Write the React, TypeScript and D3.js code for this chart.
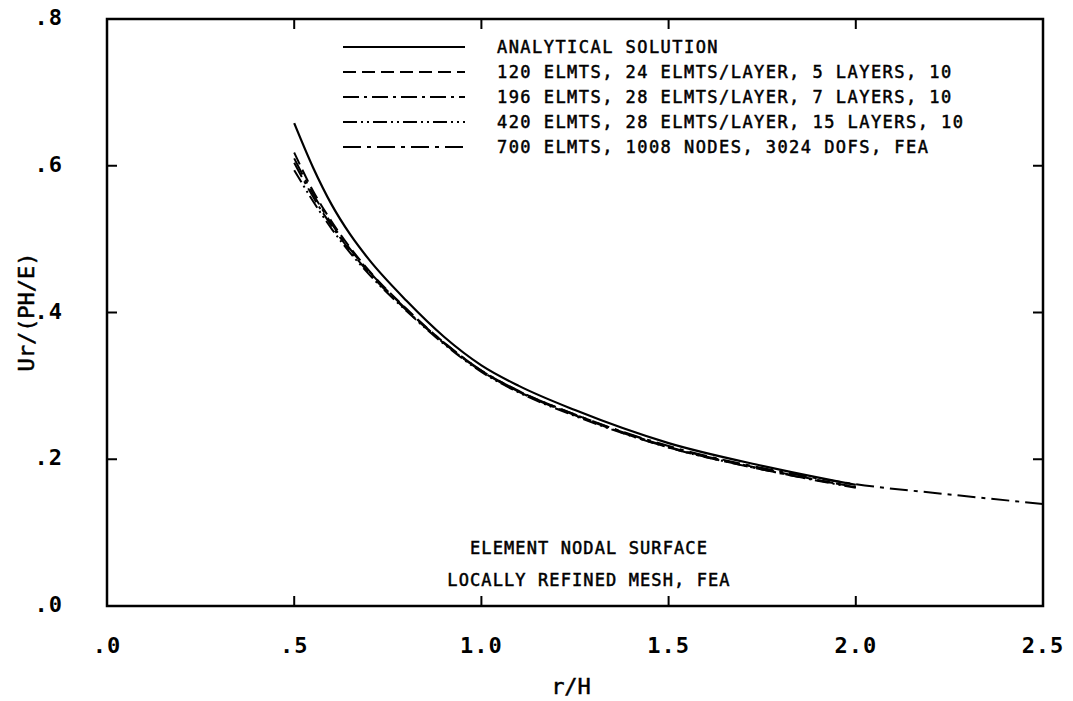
import React from "react";
import * as d3 from "d3";

const xTicks = [0, 0.5, 1.0, 1.5, 2.0, 2.5];
const xTickLabels = [".0", ".5", "1.0", "1.5", "2.0", "2.5"];
const yTicks = [0, 0.2, 0.4, 0.6, 0.8];
const yTickLabels = [".0", ".2", ".4", ".6", ".8"];

const analyticalR = [0.5, 0.55, 0.6, 0.65, 0.7, 0.8, 0.9, 1.0, 1.1, 1.25, 1.5, 1.75, 2.0];
const analyticalU = [0.658, 0.598, 0.547, 0.506, 0.472, 0.416, 0.367, 0.328, 0.300, 0.267, 0.222, 0.191, 0.165];

const feaR = [0.5, 0.55, 0.6, 0.65, 0.7, 0.8, 0.9, 1.0, 1.1, 1.25, 1.5, 1.75, 2.0];
const fea120U = [0.618, 0.566, 0.524, 0.488, 0.457, 0.405, 0.359, 0.321, 0.293, 0.261, 0.217, 0.187, 0.162];
const fea196U = [0.604, 0.558, 0.518, 0.484, 0.454, 0.403, 0.358, 0.320, 0.292, 0.260, 0.216, 0.186, 0.162];
const fea420U = [0.594, 0.552, 0.514, 0.481, 0.452, 0.402, 0.357, 0.319, 0.291, 0.259, 0.216, 0.186, 0.161];
const fea700R = [0.5, 0.55, 0.6, 0.65, 0.7, 0.8, 0.9, 1.0, 1.1, 1.25, 1.5, 1.75, 2.0, 2.25, 2.5];
const fea700U = [0.610, 0.562, 0.521, 0.486, 0.456, 0.404, 0.359, 0.321, 0.293, 0.261, 0.218, 0.188, 0.166, 0.152, 0.139];

const legendLabels = [
  "ANALYTICAL SOLUTION",
  "120 ELMTS, 24 ELMTS/LAYER, 5 LAYERS, 10",
  "196 ELMTS, 28 ELMTS/LAYER, 7 LAYERS, 10",
  "420 ELMTS, 28 ELMTS/LAYER, 15 LAYERS, 10",
  "700 ELMTS, 1008 NODES, 3024 DOFS, FEA",
];
const dashes = ["none", "13,6", "16,5,3,5", "14,4,2,4,2,4", "18,6,4,6"];
const annotation = ["ELEMENT NODAL SURFACE", "LOCALLY REFINED MESH, FEA"];

export default function App() {
  const x = d3.scaleLinear().domain([0, 2.5]).range([107, 1043]);
  const y = d3.scaleLinear().domain([0, 0.8]).range([606, 19]);
  const line = d3
    .line<[number, number]>()
    .x((d) => x(d[0]))
    .y((d) => y(d[1]))
    .curve(d3.curveMonotoneX);

  const series = [
    { r: analyticalR, u: analyticalU },
    { r: feaR, u: fea120U },
    { r: feaR, u: fea196U },
    { r: feaR, u: fea420U },
    { r: fea700R, u: fea700U },
  ];

  const mono = "'DejaVu Sans Mono', 'Liberation Mono', monospace";
  const [x0, x1] = x.range();
  const [y0, y1] = y.range();

  return (
    <svg
      width={1073}
      height={701}
      style={{ position: "absolute", left: 0, top: 0, background: "#fff" }}
    >
      <rect x={0} y={0} width={1073} height={701} fill="#fff" />
      {/* frame */}
      <rect x={x0} y={y1} width={x1 - x0} height={y0 - y1} fill="none" stroke="#000" strokeWidth={2.5} />
      {/* x ticks */}
      {xTicks.map((t, i) => (
        <g key={"xt" + i}>
          <line x1={x(t)} x2={x(t)} y1={y0} y2={y0 - 10} stroke="#000" strokeWidth={2} />
          <line x1={x(t)} x2={x(t)} y1={y1} y2={y1 + 10} stroke="#000" strokeWidth={2} />
          <text
            x={x(t)}
            y={653}
            textAnchor="middle"
            fontFamily={mono}
            fontWeight="bold"
            fontSize={22}
            letterSpacing={1}
          >
            {xTickLabels[i]}
          </text>
        </g>
      ))}
      {/* y ticks */}
      {yTicks.map((t, i) => (
        <g key={"yt" + i}>
          <line x1={x0} x2={x0 + 10} y1={y(t)} y2={y(t)} stroke="#000" strokeWidth={2} />
          <line x1={x1} x2={x1 - 10} y1={y(t)} y2={y(t)} stroke="#000" strokeWidth={2} />
          <text
            x={63}
            y={y(t) + 6}
            textAnchor="end"
            fontFamily={mono}
            fontWeight="bold"
            fontSize={22}
            letterSpacing={1}
          >
            {yTickLabels[i]}
          </text>
        </g>
      ))}
      {/* axis titles */}
      <text x={571} y={694} textAnchor="middle" fontFamily={mono} fontSize={22} stroke="#000" strokeWidth={0.5}>
        r/H
      </text>
      <text
        transform={`translate(34,312) rotate(-90)`}
        textAnchor="middle"
        fontFamily={mono}
        fontSize={22}
        stroke="#000"
        strokeWidth={0.5}
      >
        Ur/(PH/E)
      </text>
      {/* curves */}
      {series.map((s, i) => (
        <path
          key={"s" + i}
          d={line(s.r.map((r, j) => [r, s.u[j]] as [number, number])) || ""}
          fill="none"
          stroke="#000"
          strokeWidth={i === 0 ? 2.2 : 2}
          strokeDasharray={dashes[i]}
        />
      ))}
      {/* legend */}
      {legendLabels.map((lab, i) => {
        const ly = 47 + i * 25;
        return (
          <g key={"lg" + i}>
            <line x1={343} x2={465} y1={ly} y2={ly} stroke="#000" strokeWidth={2} strokeDasharray={dashes[i]} />
            <text
              x={497}
              y={ly + 6}
              fontFamily={mono}
              fontSize={17}
              letterSpacing={1.45}
              stroke="#000"
              strokeWidth={0.5}
            >
              {lab}
            </text>
          </g>
        );
      })}
      {/* annotation */}
      {annotation.map((a, i) => (
        <text
          key={"an" + i}
          x={589}
          y={554 + i * 32}
          textAnchor="middle"
          fontFamily={mono}
          fontSize={17}
          letterSpacing={1.1}
          stroke="#000"
          strokeWidth={0.5}
        >
          {a}
        </text>
      ))}
    </svg>
  );
}
